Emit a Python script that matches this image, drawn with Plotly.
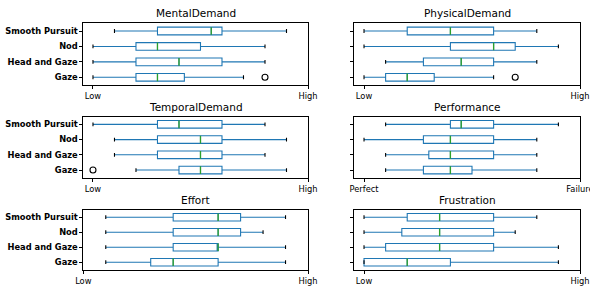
import plotly.graph_objects as go

conditions = ["Gaze", "Head and Gaze", "Nod", "Smooth Pursuit"]
positions = [1, 2, 3, 4]

titles = ["MentalDemand", "PhysicalDemand", "TemporalDemand", "Performance", "Effort", "Frustration"]
tick_labels = [["Low", "High"], ["Low", "High"], ["Low", "High"],
               ["Perfect", "Failure"], ["Low", "High"], ["Low", "High"]]
tick_values = [0, 100]

mental_lo = [0, 0, 0, 10]
mental_q1 = [20, 20, 20, 30]
mental_med = [30, 40, 30, 55]
mental_q3 = [42.5, 60, 50, 60]
mental_hi = [70, 80, 80, 90]
mental_fliers = {"Gaze": [80]}

physical_lo = [0, 10, 0, 0]
physical_q1 = [10, 27.5, 40, 20]
physical_med = [20, 45, 60, 40]
physical_q3 = [32.5, 60, 70, 60]
physical_hi = [60, 80, 90, 80]
physical_fliers = {"Gaze": [70]}

temporal_lo = [20, 10, 10, 0]
temporal_q1 = [40, 30, 30, 30]
temporal_med = [50, 50, 50, 40]
temporal_q3 = [60, 60, 60, 60]
temporal_hi = [90, 80, 90, 80]
temporal_fliers = {"Gaze": [0]}

performance_lo = [10, 10, 0, 10]
performance_q1 = [27.5, 30, 27.5, 40]
performance_med = [40, 40, 40, 45]
performance_q3 = [50, 60, 60, 60]
performance_hi = [80, 80, 80, 90]
performance_fliers = {}

effort_lo = [10, 10, 10, 10]
effort_q1 = [30, 40, 40, 40]
effort_med = [40, 60, 60, 60]
effort_q3 = [60, 60, 70, 70]
effort_hi = [90, 90, 80, 90]
effort_fliers = {}

frustration_lo = [0, 0, 0, 0]
frustration_q1 = [0, 10, 17.5, 20]
frustration_med = [20, 35, 35, 35]
frustration_q3 = [40, 60, 60, 60]
frustration_hi = [90, 90, 70, 80]
frustration_fliers = {}

panels = [
    (mental_lo, mental_q1, mental_med, mental_q3, mental_hi, mental_fliers),
    (physical_lo, physical_q1, physical_med, physical_q3, physical_hi, physical_fliers),
    (temporal_lo, temporal_q1, temporal_med, temporal_q3, temporal_hi, temporal_fliers),
    (performance_lo, performance_q1, performance_med, performance_q3, performance_hi, performance_fliers),
    (effort_lo, effort_q1, effort_med, effort_q3, effort_hi, effort_fliers),
    (frustration_lo, frustration_q1, frustration_med, frustration_q3, frustration_hi, frustration_fliers),
]

W, H = 590, 286
col_px = [(83.3, 308.0), (354.3, 580.0)]
row_px = [(23.3, 85.0), (116.7, 177.7), (209.7, 269.7)]

BOX_C = "#1f77b4"
MED_C = "#2ca02c"
FONT = "DejaVu Sans"
box_w = 0.5
cap_half = 0.125

fig = go.Figure()
layout = dict(width=W, height=H, margin=dict(l=0, r=0, t=0, b=0, autoexpand=False),
              paper_bgcolor="white", plot_bgcolor="white", showlegend=False,
              font=dict(family=FONT, size=8.3, color="black"), annotations=[])

for i, (lo, q1, med, q3, hi, fliers) in enumerate(panels):
    r, c = divmod(i, 2)
    xa = "x" if i == 0 else f"x{i+1}"
    ya = "y" if i == 0 else f"y{i+1}"
    xd = [col_px[c][0] / W, col_px[c][1] / W]
    yd = [1 - row_px[r][1] / H, 1 - row_px[r][0] / H]

    fig.add_trace(go.Box(
        y=positions, q1=q1, median=med, q3=q3, lowerfence=lo, upperfence=hi,
        orientation="h", width=box_w, whiskerwidth=0,
        line=dict(color=BOX_C, width=1.1), fillcolor="rgba(0,0,0,0)",
        boxpoints=False, xaxis=xa, yaxis=ya, hoverinfo="skip"))

    mx, my, cx, cy = [], [], [], []
    for p, m, l, h in zip(positions, med, lo, hi):
        mx += [m, m, None]
        my += [p - box_w / 2, p + box_w / 2, None]
        for v in (l, h):
            cx += [v, v, None]
            cy += [p - cap_half, p + cap_half, None]
    fig.add_trace(go.Scatter(x=mx, y=my, mode="lines", line=dict(color=MED_C, width=1.3),
                             xaxis=xa, yaxis=ya, hoverinfo="skip"))
    fig.add_trace(go.Scatter(x=cx, y=cy, mode="lines", line=dict(color="black", width=1.1),
                             xaxis=xa, yaxis=ya, hoverinfo="skip"))

    fx, fy = [], []
    for name, vals in fliers.items():
        p = positions[conditions.index(name)]
        fx += vals
        fy += [p] * len(vals)
    if fx:
        fig.add_trace(go.Scatter(x=fx, y=fy, mode="markers",
                                 marker=dict(symbol="circle-open", size=6, color="black",
                                             line=dict(width=1.1, color="black")),
                                 xaxis=xa, yaxis=ya, hoverinfo="skip"))

    allv = lo + q1 + med + q3 + hi + [v for vs in fliers.values() for v in vs]
    dmin, dmax = min(allv), max(allv)
    marg = 0.05 * (dmax - dmin)
    xr = [min(dmin - marg, tick_values[0]), max(dmax + marg, tick_values[1])]

    layout["xaxis" if i == 0 else f"xaxis{i+1}"] = dict(
        domain=xd, range=xr, anchor=ya, tickmode="array", tickvals=tick_values,
        ticktext=tick_labels[i], ticks="outside", ticklen=3, tickwidth=0.8, tickcolor="black",
        showline=True, linecolor="black", linewidth=0.8, mirror=True, automargin=False,
        ticklabeloverflow="allow",
        showgrid=False, zeroline=False, tickfont=dict(size=8.3, family=FONT))
    layout["yaxis" if i == 0 else f"yaxis{i+1}"] = dict(
        domain=yd, range=[0.5, 4.5], anchor=xa, tickmode="array", tickvals=positions,
        ticktext=[f"<b>{n}</b>" for n in conditions], showticklabels=(c == 0),
        ticks="outside", ticklen=3, tickwidth=0.8, tickcolor="black", automargin=False,
        showline=True, linecolor="black", linewidth=0.8, mirror=True,
        showgrid=False, zeroline=False, tickfont=dict(size=8.3, family=FONT))
    layout["annotations"].append(dict(
        text=titles[i], x=(xd[0] + xd[1]) / 2, y=yd[1], xref="paper", yref="paper",
        xanchor="center", yanchor="bottom", yshift=2, showarrow=False,
        font=dict(size=10.5, family=FONT, color="black")))

fig.update_layout(**layout)
fig.write_html("out.html", config={"displayModeBar": False},
               post_script="document.body.style.margin='0';document.body.style.overflow='hidden';")
